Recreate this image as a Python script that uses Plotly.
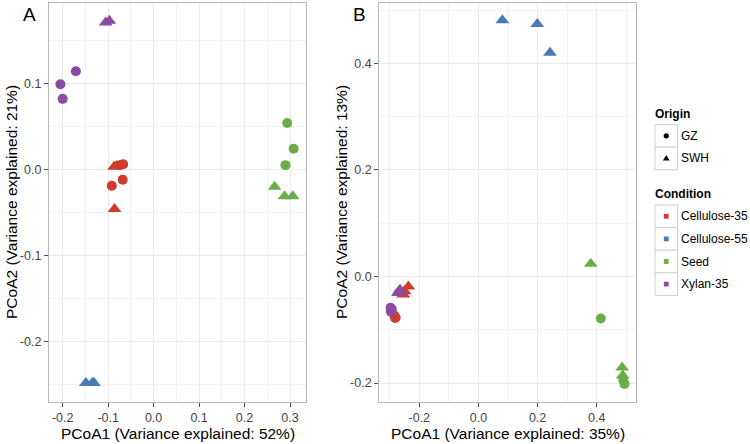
import plotly.graph_objects as go

W, H = 750, 444

# ---------------- data ----------------
conditions = ["Cellulose-35", "Cellulose-55", "Seed", "Xylan-35"]
condition_colors = ["#cf3b2f", "#4a7ab6", "#6bad48", "#8c4aa0"]
origins = ["GZ", "SWH"]
origin_symbols = ["circle", "triangle-up"]

# Panel A  (PCoA1 52%, PCoA2 21%)
a_x = [-0.074, -0.067, -0.092, -0.068, -0.087, -0.081, -0.086,
       -0.149, -0.135, -0.131,
       0.294, 0.308, 0.290, 0.266, 0.288, 0.306,
       -0.205, -0.200, -0.171, -0.1054, -0.0975]
a_y = [0.005, 0.006, -0.019, -0.012, 0.003, 0.004, -0.046,
       -0.248, -0.248, -0.248,
       0.054, 0.024, 0.005, -0.020, -0.031, -0.031,
       0.099, 0.082, 0.114, 0.1706, 0.1726]
a_cond = ["Cellulose-35"] * 7 + ["Cellulose-55"] * 3 + ["Seed"] * 6 + ["Xylan-35"] * 5
a_orig = ["GZ", "GZ", "GZ", "GZ", "SWH", "SWH", "SWH",
          "SWH", "SWH", "SWH",
          "GZ", "GZ", "GZ", "SWH", "SWH", "SWH",
          "GZ", "GZ", "GZ", "SWH", "SWH"]

# Panel B  (PCoA1 35%, PCoA2 13%)
b_x = [-0.285, -0.280, -0.282, -0.237, -0.250, -0.254,
       0.081, 0.199, 0.242,
       0.414, 0.490, 0.494, 0.380, 0.486, 0.488,
       -0.297, -0.296, -0.293, -0.265, -0.268, -0.272]
b_y = [-0.073, -0.077, -0.078, -0.019, -0.028, -0.034,
       0.481, 0.474, 0.420,
       -0.079, -0.195, -0.202, 0.024, -0.171, -0.186,
       -0.059, -0.066, -0.062, -0.025, -0.027, -0.031]
b_cond = ["Cellulose-35"] * 6 + ["Cellulose-55"] * 3 + ["Seed"] * 6 + ["Xylan-35"] * 6
b_orig = ["GZ", "GZ", "GZ", "SWH", "SWH", "SWH",
          "SWH", "SWH", "SWH",
          "GZ", "GZ", "GZ", "SWH", "SWH", "SWH",
          "GZ", "GZ", "GZ", "SWH", "SWH", "SWH"]

a_xticks = [-0.2, -0.1, 0.0, 0.1, 0.2, 0.3]
a_xticklabels = ["-0.2", "-0.1", "0.0", "0.1", "0.2", "0.3"]
a_yticks = [-0.2, -0.1, 0.0, 0.1]
a_yticklabels = ["-0.2", "-0.1", "0.0", "0.1"]
b_xticks = [-0.2, 0.0, 0.2, 0.4]
b_xticklabels = ["-0.2", "0.0", "0.2", "0.4"]
b_yticks = [-0.2, 0.0, 0.2, 0.4]
b_yticklabels = ["-0.2", "0.0", "0.2", "0.4"]

a_xtitle = "PCoA1 (Variance explained: 52%)"
a_ytitle = "PCoA2 (Variance explained: 21%)"
b_xtitle = "PCoA1 (Variance explained: 35%)"
b_ytitle = "PCoA2 (Variance explained: 13%)"

# ---------------- helpers ----------------
def px(x):
    return x / W

def py(y):
    return 1 - y / H

FONT = "Liberation Sans, Arial, Helvetica, sans-serif"

fig = go.Figure()

def add_panel(xs, ys, conds, origs, xaxis, yaxis):
    for ci, cond in enumerate(conditions):
        for oi, orig in enumerate(origins):
            sx = [x for x, c, o in zip(xs, conds, origs) if c == cond and o == orig]
            sy = [y for y, c, o in zip(ys, conds, origs) if c == cond and o == orig]
            if not sx:
                continue
            fig.add_trace(go.Scatter(
                x=sx, y=sy, mode="markers", xaxis=xaxis, yaxis=yaxis,
                showlegend=False, name=f"{cond} / {orig}",
                marker=dict(symbol=origin_symbols[oi], color=condition_colors[ci],
                            size=10 if orig == "GZ" else 12, line=dict(width=0)),
            ))

add_panel(a_x, a_y, a_cond, a_orig, "x", "y")
add_panel(b_x, b_y, b_cond, b_orig, "x2", "y2")

def axis_style(domain, rng, tickvals, ticktext, minor_dtick, anchor):
    return dict(
        domain=domain, range=rng, anchor=anchor,
        tickmode="array", tickvals=tickvals, ticktext=ticktext,
        showgrid=True, gridcolor="#ebebeb", gridwidth=1,
        minor=dict(dtick=minor_dtick, tick0=0, showgrid=True,
                   gridcolor="#f3f3f3", gridwidth=0.7, ticklen=0),
        zeroline=False,
        showline=True, linecolor="#b5b5b5", linewidth=1.3, mirror=True,
        ticks="outside", ticklen=4, tickwidth=1, tickcolor="#4d4d4d",
        tickfont=dict(family=FONT, size=12.5, color="#444444"),
        fixedrange=True,
    )

top, bottom = 3, 401.7
ydom = [py(bottom), py(top)]

fig.update_layout(
    width=W, height=H,
    margin=dict(l=0, r=0, t=0, b=0),
    paper_bgcolor="white", plot_bgcolor="white",
    font=dict(family=FONT, color="black"),
    xaxis=axis_style([px(49), px(306)], [-0.2301, 0.3352], a_xticks, a_xticklabels, 0.05, "y"),
    yaxis=axis_style(ydom, [-0.2697, 0.1933], a_yticks, a_yticklabels, 0.05, "x"),
    xaxis2=axis_style([px(379.3), px(636)], [-0.3353, 0.5329], b_xticks, b_xticklabels, 0.1, "y2"),
    yaxis2=axis_style(ydom, [-0.2351, 0.5132], b_yticks, b_yticklabels, 0.1, "x2"),
)

annotations = []
def text(x, y, s, size, xanchor="center", yanchor="middle", angle=0, bold=False, color="black"):
    annotations.append(dict(
        x=px(x), y=py(y), xref="paper", yref="paper", text=(f"<b>{s}</b>" if bold else s),
        showarrow=False, xanchor=xanchor, yanchor=yanchor, textangle=angle,
        font=dict(family=FONT, size=size, color=color), borderpad=0,
    ))

# panel letters
text(29, 14, "A", 19)
text(359, 14, "B", 19)
# axis titles
text(177.5, 433, a_xtitle, 15.5)
text(507.6, 433, b_xtitle, 15.5)
text(11, 202, a_ytitle, 15.5, angle=-90)
text(341, 202, b_ytitle, 15.5, angle=-90)

# ---------------- legend (manual) ----------------
shapes = []
kx0, kx1 = 655, 677.5
key = 22.6
LEG = 12

text(kx0 - 1, 114, "Origin", LEG, xanchor="left", bold=True)
for i, orig in enumerate(origins):
    y0 = 124.5 + i * key
    shapes.append(dict(type="rect", xref="paper", yref="paper",
                       x0=px(kx0), x1=px(kx1), y0=py(y0), y1=py(y0 + key),
                       line=dict(color="#d0d0d0", width=1), fillcolor="white"))
    cx, cy = (kx0 + kx1) / 2, y0 + key / 2
    if origin_symbols[i] == "circle":
        shapes.append(dict(type="circle", xref="paper", yref="paper",
                           x0=px(cx - 2.6), x1=px(cx + 2.6), y0=py(cy - 2.6), y1=py(cy + 2.6),
                           line=dict(width=0), fillcolor="black"))
    else:
        pts = [(cx - 3.3, cy + 2.2), (cx + 3.3, cy + 2.2), (cx, cy - 3.4)]
        path = "M " + " L ".join(f"{px(a)},{py(b)}" for a, b in pts) + " Z"
        shapes.append(dict(type="path", xref="paper", yref="paper", path=path,
                           line=dict(width=0), fillcolor="black"))
    text(679.5, cy, orig, LEG, xanchor="left")

text(kx0 - 1, 194, "Condition", LEG, xanchor="left", bold=True)
for i, cond in enumerate(conditions):
    y0 = 205 + i * key
    shapes.append(dict(type="rect", xref="paper", yref="paper",
                       x0=px(kx0), x1=px(kx1), y0=py(y0), y1=py(y0 + key),
                       line=dict(color="#d0d0d0", width=1), fillcolor="white"))
    cx, cy = (kx0 + kx1) / 2, y0 + key / 2
    shapes.append(dict(type="rect", xref="paper", yref="paper",
                       x0=px(cx - 2.4), x1=px(cx + 2.4), y0=py(cy - 2.4), y1=py(cy + 2.4),
                       line=dict(width=0), fillcolor=condition_colors[i]))
    text(679.5, cy, cond, LEG, xanchor="left")

fig.update_layout(annotations=annotations, shapes=shapes)

# remove the default page margin so the figure sits at the window origin
fig.write_html(
    "out.html",
    config={"displayModeBar": False},
    post_script="document.body.style.margin='0';document.body.style.overflow='hidden';",
)
